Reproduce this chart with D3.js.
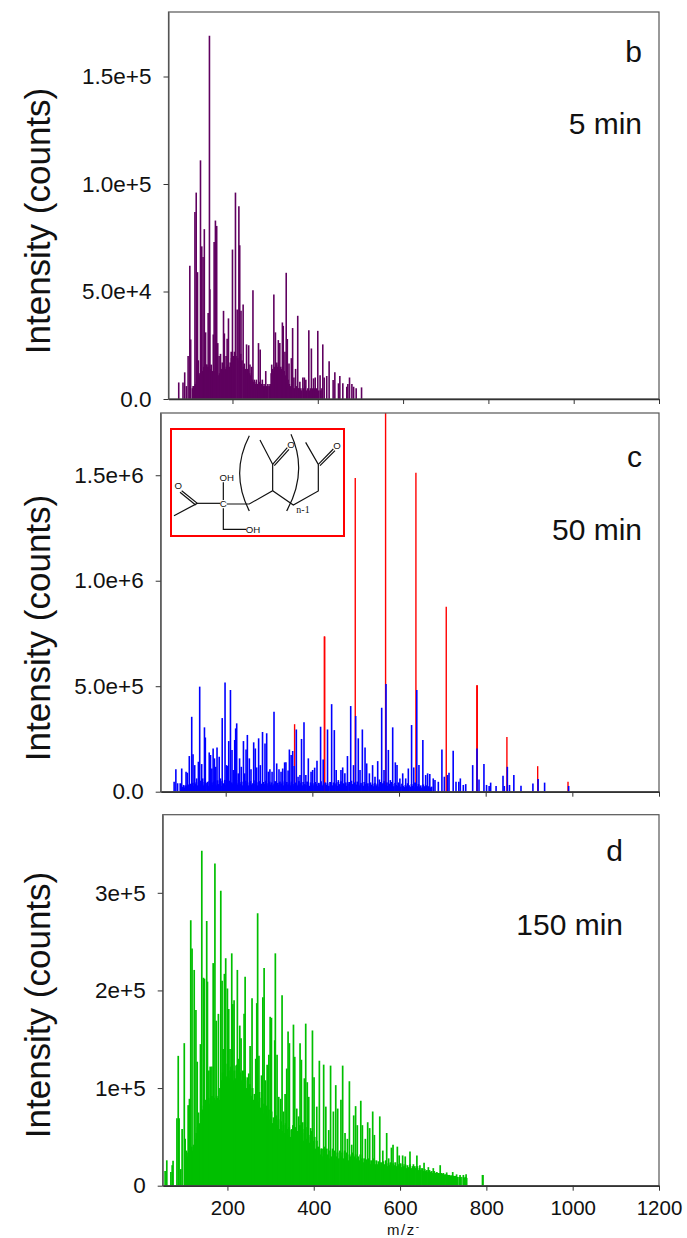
<!DOCTYPE html>
<html>
<head>
<meta charset="utf-8">
<script src="https://cdn.jsdelivr.net/npm/d3@7"></script>
<style>
  html, body { margin: 0; padding: 0; background: #fff; }
  svg { display: block; }
  text { font-family: "Liberation Sans", Arial, sans-serif; fill: #111; }
</style>
</head>
<body>
<div id="graph"></div>
<script>
// all intensities in thousands of counts, peaks are [m/z, intensity]
var xTicks = [200, 400, 600, 800, 1000, 1200];

var bYTicks = [0, 50, 100, 150];
var bYLabels = ["0.0", "5.0e+4", "1.0e+5", "1.5e+5"];
var cYTicks = [0, 500, 1000, 1500];
var cYLabels = ["0.0", "5.0e+5", "1.0e+6", "1.5e+6"];
var dYTicks = [0, 100, 200, 300];
var dYLabels = ["0", "1e+5", "2e+5", "3e+5"];

var bPeaks = [[74,7.7],[84,7.7],[88,12.4],[92,6],[96,20],[100,62],[102,27.7],[106,5],[109,6],[112,87],[115,96],[118,59],[120,18],[122,10],[125,111],[128,71],[131,66],[134,79],[137,31],[140,16],[143,40],[146,169],[147,51],[151,13],[155,30],[157,73],[160,83],[163,80.5],[165.5,26],[168.6,20],[172,21],[176,17],[179,41],[181,30.5],[185,20],[187.5,28],[190.6,37.5],[194,13],[197,22],[200,69.5],[204,19],[207,96],[211,41.6],[215,89.6],[217,71.5],[220,41],[225,44],[228,16.5],[233,25.4],[238,25],[241,16],[245,15],[248,50.6],[251,9],[256,9],[261,26],[265,23],[270,9],[274,7],[278,13],[283,7],[288,7],[292,16],[297,48.6],[300.7,31],[304,17],[307.5,27.4],[311,26],[317,35.6],[319,34],[323,22],[326,58.7],[328.6,27.9],[332.5,16.5],[338,19],[341,33],[344,10],[348,14],[353,38.7],[358,8],[365,10],[368.6,10],[372,9],[379,32],[385,23.5],[390,9.6],[394,10],[400,31.7],[405.4,11],[411.7,25.4],[415,10],[421,10.7],[426.6,17.6],[436,8.8],[440,12.4],[448.5,7.3],[451.7,10.7],[458.7,7.3],[468,5.7],[470.5,7],[474.4,10],[480,7],[484,5.7],[490,5],[502.6,5.4]];
var bBase = [[108,6],[110,6],[113,7],[116,8],[119,10],[121,11],[124,12],[127,13],[130,13],[133,15],[136,15],[139,16],[142,15],[145,15],[148,14],[150,16],[153,13],[156,12],[159,13],[162,12],[166,11],[170,12],[174,14],[177,13],[180,12],[183,14],[186,15],[189,16],[192,15],[195,17],[198,19],[202,20],[205,22],[208,20],[212,19],[216,18],[219,21],[222,18],[226,15],[230,14],[232,12],[235,14],[237,13],[240,12],[243,11],[246,9],[249,8],[252,8],[254,7],[258,7],[260,7],[263,8],[267,7],[269,7],[272,6],[276,6],[280,6],[282,6],[286,6],[290,7],[291,12],[294,14],[296,13],[299,15],[302,14],[303,16],[306,15],[309,14],[313,15],[315,14],[318,13],[321,13],[325,11],[327,10],[330,9],[333,7],[336,6],[340,5],[343,5],[346,5],[350,6],[352,5],[355,5],[356,5],[360,5],[362,4],[367,5],[370,6],[374,4],[377,5],[381,4],[383,5],[387,5],[392,5],[397,5],[402,4],[407,4],[410,5]];

var cRedPeaks = [[359,320],[427.6,736],[428.6,736],[499,1487],[569,1795],[639,1512],[709,877],[779.6,505],[780.6,505],[849,259],[920,121],[990,47]];
var cBluePeaks = [[81,47],[85,106],[89,40],[95,40],[98.5,110],[103,32],[108.5,95],[111.6,90],[116,169],[121.6,355],[124.6,178],[128.5,126],[133,63],[137,142],[140,498],[144.6,131],[147,63],[151,305],[153,257],[158,47],[162,186],[165,174],[168,110],[171,205],[174,158],[177,118],[180,210],[185,166],[188,63],[192,349],[198.5,518],[202,126],[204,122],[207,240],[211,482],[214.6,198],[217.7,103],[220.8,245],[223,300],[225.4,324],[229,87],[232,158],[236,118],[241,240],[244,87],[247,200],[250,269],[254.6,158],[258.4,106],[264.6,234],[268.4,205],[271.5,115],[276,253],[280,126],[285,283],[290.7,229],[294.6,277],[298.4,95],[302,106],[307,95],[311.5,379],[317.7,134],[323,106],[327.7,95],[331.5,110],[336,139],[339,139],[344,100],[347,200],[351,174],[354.6,193],[358,122],[363,295],[367,71],[371.5,79],[375,250],[380.7,329],[385,79],[390.7,158],[397,95],[400.7,103],[405.3,114],[410.7,147],[419,308],[425,153],[435,295],[444.5,415],[450.7,292],[455,103],[460,55],[466,103],[470,115],[475,87],[481,169],[488.5,406],[495,126],[500,359],[506,253],[510,103],[515.4,295],[521.6,210],[525.4,134],[531.6,87],[539,126],[544.6,71],[550.8,145],[554.6,58],[560,398],[565.4,103],[570,510],[575.4,198],[580,55],[585.4,305],[591.5,139],[595.4,126],[602,63],[608.5,87],[615.4,63],[621.5,110],[629,316],[634,115],[641,482],[646,126],[655,245],[661.5,79],[666,87],[671,84],[679,63],[683,55],[690.7,47],[699,200],[704.6,71],[712,79],[715.4,90],[725,194],[731.5,47],[738,47],[741.5,63],[748.4,32],[754,36],[770,126],[780,205],[784.6,58],[796,131],[802,32],[808,27],[811.5,43],[824,27],[840,76],[843,27],[850,118],[855,32],[865,79],[881.5,28],[909,39],[921,60],[936,43],[991.5,27]];
var cBlueBase = [[100,22],[103,28],[105,20],[108,30],[111,26],[113,34],[116,24],[119,38],[122,30],[124,42],[127,28],[130,36],[132,44],[135,30],[138,48],[141,34],[143,52],[146,38],[149,30],[151,46],[154,34],[157,42],[160,28],[162,50],[165,36],[168,44],[170,32],[173,48],[176,38],[179,30],[181,54],[184,36],[187,44],[189,28],[192,50],[195,40],[198,56],[200,32],[203,46],[206,38],[208,52],[211,30],[214,44],[217,36],[219,28],[222,50],[225,42],[227,34],[230,55],[233,38],[236,46],[238,30],[241,48],[244,36],[246,52],[249,40],[252,30],[255,44],[257,50],[260,34],[263,40],[265,54],[268,36],[271,46],[274,30],[276,42],[279,50],[282,38],[284,32],[287,46],[290,36],[293,52],[295,30],[298,40],[301,48],[303,34],[306,44],[309,30],[312,38],[314,50],[317,36],[320,42],[322,32],[325,48],[328,38],[331,44],[333,30],[336,52],[339,36],[341,46],[344,34],[347,40],[350,30],[352,48],[355,36],[358,28],[360,44],[363,38],[366,30],[369,50],[371,34],[374,42],[377,30],[379,46],[382,36],[385,32],[388,48],[390,38],[393,28],[396,44],[398,34],[401,40],[404,30],[407,46],[409,36],[412,28],[415,42],[417,34],[420,50],[423,30],[426,38],[430,44],[432,32],[435,40],[438,28],[441,46],[443,36],[446,30],[449,44],[452,34],[455,40],[457,28],[460,46],[463,36],[466,50],[468,30],[471,40],[474,34],[477,44],[479,28],[482,38],[485,46],[487,32],[490,52],[493,36],[496,28],[498,44],[501,34],[504,48],[506,38],[509,30],[512,42],[515,34],[517,28],[520,46],[523,36],[525,30],[528,40],[531,26],[534,44],[536,32],[539,36],[542,26],[544,42],[547,30],[550,38],[553,24],[555,34],[558,46],[561,30],[563,40],[566,50],[569,32],[572,44],[574,28],[577,38],[580,30],[582,46],[585,36],[588,26],[591,42],[593,32],[596,28],[599,44],[601,34],[604,24],[607,38],[610,28],[612,22],[615,32],[618,26],[620,40],[623,30],[626,24],[629,36],[631,28],[634,22],[637,44],[639,30],[642,26],[645,36],[648,24],[650,30],[653,20],[656,34],[658,26],[661,22],[664,30],[667,18],[669,26],[672,20],[675,24]];

var dPeaks = [[55.6,15],[59.5,26],[69,14],[72,21],[74,25.6],[83,69],[86,133],[88,69],[92,17],[95,58],[100,146],[102,48],[105,36],[109,82.5],[112,89],[115,272],[118,243],[123,221],[127,180],[130,127],[133,75],[137.5,145],[140.6,343],[144.4,213],[146.7,212],[149,86],[152,271],[153.7,209],[157,118],[160,122],[164,122],[167,228],[171,330],[174,169],[179,176],[181.5,88],[184.6,302],[187.6,210],[190,140],[193,217],[196,233],[200,202],[203,181],[206,140],[210,238],[212.4,186],[215.4,190],[220,123],[223,221],[225.5,130],[228.6,164],[231.6,151],[235,103],[238.6,176],[241,214],[246,111],[249.4,115],[252.5,143],[257,192],[262,79],[265.6,130],[268,187],[270,279],[273,133],[279,113],[282,193],[285,223],[288,108],[292,124],[296,134],[299,173],[302,172],[306,64],[309.6,149],[311,238],[315,134],[319,91],[323.5,89],[326.6,195],[330,76],[333.6,94],[337.4,120],[340.5,158],[343.6,146],[348,57],[353,165],[356,132],[360.6,79],[365,71],[368.3,146],[371.4,129],[374.5,65],[378.3,110],[381.4,166],[385,106],[388.4,91],[393,59],[397,159],[400.7,111],[407,81],[413,128],[417,38],[423,124],[428,81],[434.7,57],[439,123],[445.5,76],[451,103],[455.5,79],[463,88],[467,123],[472.5,54],[478,48],[482.6,107],[488,42],[492.6,72],[497,81.5],[501,62],[509,87],[512.7,62],[519.6,48],[525,65],[529.6,59],[536.6,76],[540.5,52],[553,71],[560,36],[569,54],[573.6,28],[580,39],[583.7,42],[593.7,40],[598,31],[606,31],[612,30],[623,35],[631,22],[639,31],[646,21],[655.6,23.5],[665.6,19],[677,18],[693,21],[700.4,13],[708,13.6],[722,14],[731,11.6],[739,11],[746.7,11],[753,11.6],[791,11],[792,11]];
var dBase = [[106,34],[109,30],[111,38],[114,36],[117,40],[120,36],[122,42],[125,48],[128,54],[131,60],[134,58],[136,64],[139,70],[142,78],[145,82],[148,84],[150,88],[153,86],[156,90],[159,84],[161,88],[164,92],[167,86],[169,90],[172,88],[175,92],[178,90],[181,86],[183,100],[186,108],[189,116],[192,110],[194,120],[197,112],[200,125],[203,118],[205,110],[208,122],[211,115],[214,108],[216,118],[219,110],[222,124],[225,112],[227,106],[230,116],[233,108],[236,118],[238,104],[241,112],[244,100],[247,108],[249,96],[252,104],[255,92],[258,100],[260,88],[263,94],[266,84],[268,92],[271,86],[274,96],[277,80],[279,90],[282,74],[285,84],[288,70],[291,82],[293,72],[296,78],[299,68],[302,76],[304,64],[307,70],[310,60],[313,72],[316,62],[318,68],[321,58],[324,66],[327,56],[330,62],[332,54],[335,64],[338,58],[341,52],[343,60],[346,50],[349,58],[352,62],[354,54],[357,60],[360,48],[363,56],[365,52],[368,62],[371,50],[374,58],[377,46],[379,54],[382,48],[385,60],[388,52],[391,44],[393,50],[396,56],[399,46],[402,50],[405,38],[407,46],[410,40],[413,36],[416,32],[419,38],[421,30],[424,40],[427,34],[430,38],[433,32],[435,28],[438,36],[441,30],[444,38],[447,32],[449,36],[452,30],[455,34],[458,28],[461,36],[463,30],[466,34],[469,28],[472,36],[475,30],[477,34],[480,26],[483,32],[486,30],[489,34],[491,26],[494,30],[497,32],[500,28],[503,30],[505,26],[508,32],[511,28],[514,24],[517,28],[519,24],[522,27],[525,24],[528,28],[531,22],[533,26],[536,24],[539,28],[542,22],[545,26],[547,22],[550,25],[553,21],[556,24],[559,22],[561,25],[564,22],[567,26],[570,20],[573,23],[575,21],[578,24],[581,20],[584,23],[587,21],[589,24],[592,20],[595,22],[598,20],[601,23],[603,19],[606,22],[609,20],[612,22],[615,18],[617,21],[620,19],[623,22],[626,18],[629,20],[631,17],[634,20],[637,18],[640,20],[643,16],[645,18],[648,16],[651,18],[654,15],[657,17],[659,15],[662,16],[665,14],[668,16],[671,14],[673,15],[676,13],[679,15],[682,13],[685,14],[687,13],[690,13],[693,12],[696,13],[699,12],[701,12],[704,11],[707,12],[710,11],[713,11],[715,11],[718,10],[721,11],[724,10],[727,10],[729,10],[732,9],[737,9],[741,9],[747,9],[749,8],[752,9],[754,8]];

// inset drawing, in its own little coordinate system
var insetLines = [
  "M27,272L97,235L50,197", "M92,240L45,202", "M97,235L165,235", "M185,237L253,237L323,197L385,240L460,198L460,118L422,52",
  "M460,118L505,72", "M465,122L510,77", "M175,225L175,172", "M175,250L175,313L243,313",
  "M323,197L323,118L285,45", "M323,118L367,68", "M328,122L372,73", "M253,32Q195,145 253,258", "M378,28Q430,140 365,258"
];
var insetLabels = [["O",40,191],["OH",185,167],["C",175,247],["OH",264,323],["O",378,69],["O",516,72]];

var svg = d3.select("#graph").append("svg")
    .attr("width", 687)
    .attr("height", 1238);

svg.append("rect").attr("width", 687).attr("height", 1238).attr("fill", "#fff");

function draw_panel(p) {
    var x = d3.scaleLinear().domain([50, 1200]).range([p.left, 659]);
    var y = d3.scaleLinear().domain([0, p.top_value]).range([p.bottom, p.top]);

    var g = svg.append("g").attr("class", "panel");

    p.series.forEach(function(s) {
        g.append("g").selectAll("line")
            .data(s.peaks)
            .join("line")
            .attr("x1", function(d) { return x(d[0]) })
            .attr("x2", function(d) { return x(d[0]) })
            .attr("y1", y(0))
            .attr("y2", function(d) { return y(d[1]) })
            .attr("stroke", s.color)
            .attr("stroke-width", s.width);
    });

    g.append("rect")
        .attr("x", p.left)
        .attr("y", p.top)
        .attr("width", 659 - p.left)
        .attr("height", p.bottom - p.top)
        .attr("fill", "none")
        .attr("stroke", "#555")
        .attr("stroke-width", 1.2);

    var xAxis = d3.axisBottom(x)
        .tickValues(xTicks)
        .tickSize(5)
        .tickSizeOuter(0)
        .tickPadding(10)
        .tickFormat(p.x_labels ? d3.format("d") : "");
    var ax = g.append("g").attr("transform", "translate(0," + p.bottom + ")").call(xAxis);
    ax.select(".domain").attr("stroke", "#333").attr("stroke-width", 1.4);
    ax.selectAll(".tick line").attr("stroke", "#333");
    ax.selectAll("text").style("font-size", "20.5px").attr("fill", "#111");

    var yAxis = d3.axisLeft(y)
        .tickValues(p.y_ticks)
        .tickSize(5)
        .tickSizeOuter(0)
        .tickPadding(12)
        .tickFormat(function(d, i) { return p.y_labels[i] });
    var ay = g.append("g").attr("transform", "translate(" + p.left + ",0)").call(yAxis);
    ay.select(".domain").attr("stroke", "#555");
    ay.selectAll(".tick line").attr("stroke", "#333");
    ay.selectAll("text").style("font-size", "22.5px").attr("fill", "#111");

    g.append("text")
        .attr("transform", "translate(50," + p.label_y + ") rotate(-90)")
        .attr("text-anchor", "middle")
        .attr("font-size", 35)
        .text("Intensity (counts)");

    g.append("text")
        .attr("x", p.text_right)
        .attr("y", p.letter_y)
        .attr("text-anchor", "end")
        .attr("font-size", 30)
        .text(p.letter);

    g.append("text")
        .attr("x", p.text_right)
        .attr("y", p.time_y)
        .attr("text-anchor", "end")
        .attr("font-size", 30)
        .text(p.time);
}

draw_panel({
    left: 168.5, top: 12, bottom: 399, top_value: 180,
    y_ticks: bYTicks, y_labels: bYLabels,
    series: [{peaks: bBase, color: "#5f005f", width: 1.9}, {peaks: bPeaks, color: "#5f005f", width: 1.6}],
    label_y: 221, letter: "b", time: "5 min", text_right: 642, letter_y: 62, time_y: 134
});

draw_panel({
    left: 160.7, top: 413, bottom: 791.7, top_value: 1795,
    y_ticks: cYTicks, y_labels: cYLabels,
    series: [{peaks: cRedPeaks, color: "#ff0000", width: 1.4}, {peaks: cBlueBase, color: "#0000ff", width: 1.9}, {peaks: cBluePeaks, color: "#0000ff", width: 1.6}],
    label_y: 628, letter: "c", time: "50 min", text_right: 642, letter_y: 467, time_y: 540
});

draw_panel({
    left: 162.7, top: 814.7, bottom: 1185.7, top_value: 380,
    y_ticks: dYTicks, y_labels: dYLabels, x_labels: true,
    series: [{peaks: dBase, color: "#00bf00", width: 2}, {peaks: dPeaks, color: "#00bf00", width: 1.7}],
    label_y: 1005, letter: "d", time: "150 min", text_right: 623, letter_y: 861, time_y: 935
});

// x label under the last panel
var mz = svg.append("text")
    .attr("x", 387)
    .attr("y", 1235)
    .attr("font-size", 15)
    .attr("letter-spacing", 1.5)
    .text("m/z");
mz.append("tspan").attr("dy", -5).attr("font-size", 10).text("-");

// structure inset of panel c
svg.append("rect")
    .attr("x", 171).attr("y", 429)
    .attr("width", 173).attr("height", 107)
    .attr("fill", "#fff")
    .attr("stroke", "#ff0000")
    .attr("stroke-width", 2);

var inset = svg.append("g").attr("transform", "translate(165,425) scale(0.3333)");

inset.selectAll("path")
    .data(insetLines)
    .join("path")
    .attr("d", function(d) { return d })
    .attr("fill", "none")
    .attr("stroke", "#111")
    .attr("stroke-width", 3.6);

inset.selectAll("text.atom")
    .data(insetLabels)
    .join("text")
    .attr("class", "atom")
    .attr("x", function(d) { return d[1] })
    .attr("y", function(d) { return d[2] })
    .attr("text-anchor", "middle")
    .attr("font-size", 29)
    .text(function(d) { return d[0] });

inset.append("text")
    .attr("x", 394)
    .attr("y", 264)
    .attr("font-size", 30)
    .style("font-family", "'Liberation Serif', serif")
    .text("n-1");
</script>
</body>
</html>
